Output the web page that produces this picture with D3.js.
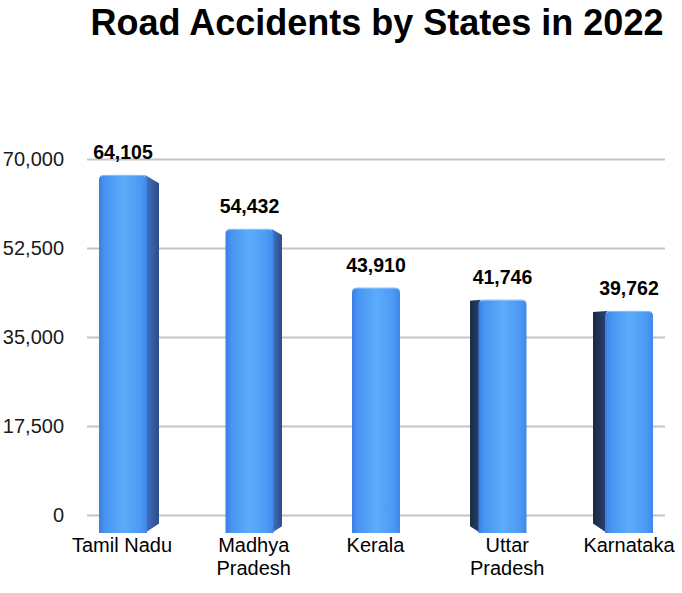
<!DOCTYPE html>
<html>
<head>
<meta charset="utf-8">
<script src="https://cdn.jsdelivr.net/npm/d3@7"></script>
<style>
	body { margin: 0; background: #fff; }
	text { font-family: "Liberation Sans", Arial, Helvetica, sans-serif; }
</style>
</head>
<body>
<svg width="682" height="593"></svg>
<script>
const states = ["Tamil Nadu", "Madhya Pradesh", "Kerala", "Uttar Pradesh", "Karnataka"];
const labelLines = [["Tamil Nadu"], ["Madhya", "Pradesh"], ["Kerala"], ["Uttar", "Pradesh"], ["Karnataka"]];
const accidents = [64105, 54432, 43910, 41746, 39762];
const yTicks = [0, 17500, 35000, 52500, 70000];

const svg = d3.select("svg");

const data = states.map((s, i) => ({ state: s, lines: labelLines[i], value: accidents[i] }));

// axis plane (back) and bar plane (front) of the 3d look
const yAxisScale = d3.scaleLinear().domain([0, 70000]).range([515, 159]);
const yBarScale = d3.scaleLinear().domain([0, 70000]).range([533, 142]);
const xScale = d3.scalePoint().domain(states).range([123, 629]);
const labelScale = d3.scalePoint().domain(states).range([122, 629]);
const centerX = 376;
const sideScale = d3.scaleSqrt().domain([0, 253]).range([0, 12]);
const barW = 48;

const defs = svg.append("defs");
const front = defs.append("linearGradient").attr("id", "front");
[["0%", "#3a7ee4"], ["12%", "#4893f1"], ["50%", "#5cacfb"], ["85%", "#4e9af4"], ["100%", "#3f88ea"]]
	.forEach(([o, c]) => front.append("stop").attr("offset", o).attr("stop-color", c));
const sideR = defs.append("linearGradient").attr("id", "sideR");
[["0%", "#4274c4"], ["100%", "#2c4d88"]]
	.forEach(([o, c]) => sideR.append("stop").attr("offset", o).attr("stop-color", c));
const sideL = defs.append("linearGradient").attr("id", "sideL");
[["0%", "#1b2a44"], ["100%", "#2b4270"]]
	.forEach(([o, c]) => sideL.append("stop").attr("offset", o).attr("stop-color", c));

// title
svg.append("text")
	.attr("x", 377)
	.attr("y", 35)
	.attr("text-anchor", "middle")
	.attr("font-size", 36)
	.attr("font-weight", "bold")
	.attr("fill", "#000")
	.text("Road Accidents by States in 2022");

// gridlines + tick labels
const yAxis = d3.axisLeft(yAxisScale)
	.tickValues(yTicks)
	.tickFormat(d3.format(","))
	.tickSize(-(665 - 87))
	.tickPadding(23);

const axisG = svg.append("g")
	.attr("transform", "translate(87,0)")
	.call(yAxis);
axisG.select(".domain").remove();
axisG.selectAll(".tick line").attr("stroke", "#c4c4c4").attr("stroke-width", 2);
axisG.selectAll(".tick text")
	.attr("font-size", 20)
	.attr("fill", "#1a1a1a")
	.attr("font-family", "Liberation Sans, Arial, sans-serif");

// bars
const bars = svg.selectAll(".bar").data(data).enter().append("g").attr("class", "bar");

bars.each(function (d) {
	const g = d3.select(this);
	const cx = xScale(d.state);
	const x0 = cx - barW / 2;
	const x1 = cx + barW / 2;
	const top = yBarScale(d.value);
	const bottom = yBarScale(0);
	const off = cx - centerX;
	const s = sideScale(Math.abs(off));
	const r = 5;

	if (s > 0.5) {
		if (off < 0) {
			g.append("path")
				.attr("d", `M${x1 - 2},${top} L${x1 + s},${top + s * 0.7} L${x1 + s},${bottom - s * 0.8} L${x1 - 2},${bottom} Z`)
				.attr("fill", "url(#sideR)");
		} else {
			g.append("path")
				.attr("d", `M${x0 - s},${top + 1} L${x0 + 2},${top} L${x0 + 2},${bottom} L${x0 - s},${bottom - s * 0.8} Z`)
				.attr("fill", "url(#sideL)");
		}
	}

	g.append("path")
		.attr("d", `M${x0},${bottom} L${x0},${top + r} Q${x0},${top} ${x0 + r},${top} L${x1 - r},${top} Q${x1},${top} ${x1},${top + r} L${x1},${bottom} Z`)
		.attr("fill", "url(#front)");
	g.append("path")
		.attr("d", `M${x0 + 2},${top + 2} Q${x0 + 2},${top + 0.5} ${x0 + r},${top + 0.5} L${x1 - r},${top + 0.5} Q${x1 - 2},${top + 0.5} ${x1 - 2},${top + 2}`)
		.attr("fill", "none")
		.attr("stroke", "#8cc8ff")
		.attr("stroke-width", 1.2)
		.attr("opacity", 0.8);

	g.append("text")
		.attr("x", cx)
		.attr("y", top - 16)
		.attr("text-anchor", "middle")
		.attr("font-size", 19.5)
		.attr("font-weight", "bold")
		.attr("fill", "#000")
		.text(d3.format(",")(d.value));

	const lx = labelScale(d.state) + (d.lines.length > 1 ? 5 : 0);
	const lbl = g.append("text")
		.attr("text-anchor", "middle")
		.attr("font-size", 20)
		.attr("fill", "#000");
	d.lines.forEach((line, i) => {
		lbl.append("tspan")
			.attr("x", lx)
			.attr("y", 552 + i * 23)
			.text(line);
	});
});
</script>
</body>
</html>
